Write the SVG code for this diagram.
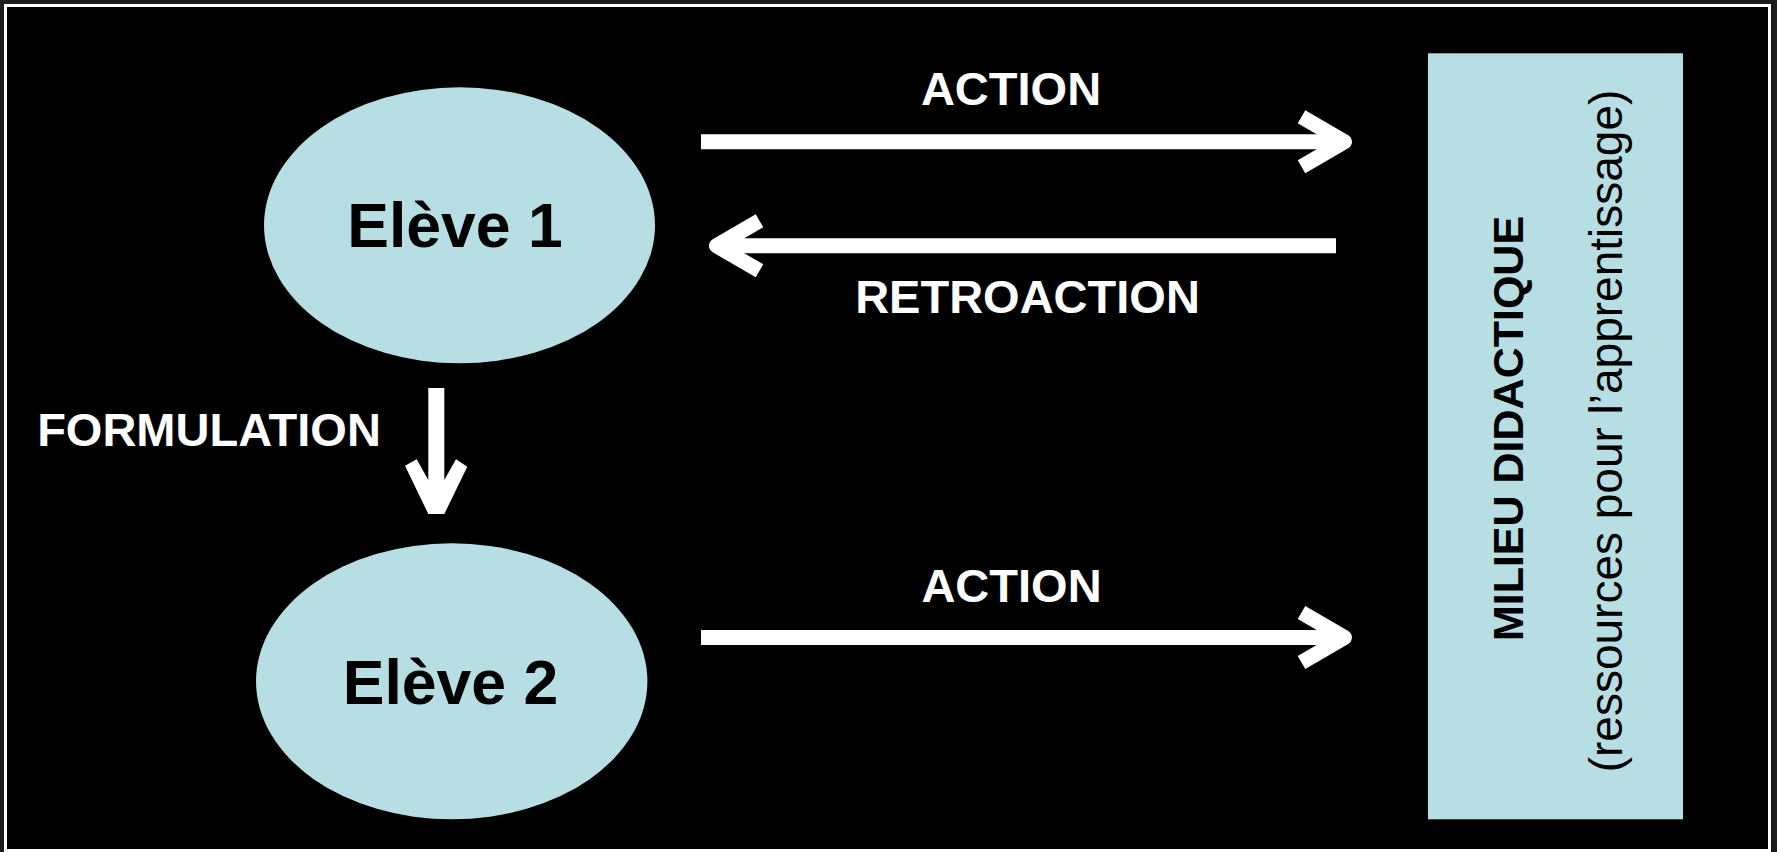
<svg xmlns="http://www.w3.org/2000/svg" width="1777" height="852" viewBox="0 0 1777 852">
  <style>
    .node { fill: #b7dee2; }
    .lbl { font-family: "Liberation Sans", Arial, sans-serif; font-weight: bold; font-size: 47px; fill: #ffffff; text-anchor: middle; }
    .ntxt { font-family: "Liberation Sans", Arial, sans-serif; font-weight: bold; font-size: 62.5px; fill: #000000; text-anchor: middle; }
    .mtxt { font-family: "Liberation Sans", Arial, sans-serif; fill: #000000; text-anchor: middle; }
    .shaft { stroke: #ffffff; stroke-width: 15; fill: none; }
  </style>
  <defs>
    <marker id="chev" markerUnits="userSpaceOnUse" viewBox="-60 -40 70 80" markerWidth="70" markerHeight="80" refX="0" refY="0" orient="auto" overflow="visible">
      <path d="M-43,-25 L0,0 L-43,25" fill="none" stroke="#ffffff" stroke-width="15" stroke-linejoin="round" stroke-linecap="butt"/>
    </marker>
  </defs>
  <rect x="0" y="0" width="1777" height="852" fill="#1c1c1c"/>
  <rect x="5.5" y="5.5" width="1764" height="845" fill="#000000" stroke="#ffffff" stroke-width="3"/>

  <g id="connectors">
    <line class="shaft" x1="701" y1="141.8" x2="1344.5" y2="141.8" marker-end="url(#chev)"/>
    <line class="shaft" x1="1336" y1="245.8" x2="716.5" y2="245.8" marker-end="url(#chev)"/>
    <line class="shaft" x1="701" y1="637.5" x2="1344.5" y2="637.5" marker-end="url(#chev)"/>
    <polygon fill="#ffffff" points="428.3,388 444.3,388 444.3,480 456,459.3 467.3,466.7 444.3,514 428.3,514 405,465.7 416.7,459.3 428.3,480"/>
    <text class="lbl" x="1011" y="105.3">ACTION</text>
    <text class="lbl" x="1027.5" y="312.7">RETROACTION</text>
    <text class="lbl" x="1011.5" y="601.7">ACTION</text>
    <text class="lbl" x="209" y="445.7">FORMULATION</text>
  </g>

  <g id="eleve1">
    <ellipse class="node" cx="459.5" cy="225.3" rx="195.5" ry="138"/>
    <text class="ntxt" x="455" y="246.7">Elève 1</text>
  </g>

  <g id="eleve2">
    <ellipse class="node" cx="451.7" cy="681.3" rx="195.7" ry="138"/>
    <text class="ntxt" x="450.5" y="704">Elève 2</text>
  </g>

  <g id="milieu">
    <rect class="node" x="1428" y="53.3" width="255" height="766"/>
    <text class="mtxt" font-weight="bold" font-size="43px" transform="translate(1523,428.5) rotate(-90)">MILIEU DIDACTIQUE</text>
    <text class="mtxt" font-size="46px" transform="translate(1622,431) rotate(-90)">(ressources pour l’apprentissage)</text>
  </g>
</svg>
